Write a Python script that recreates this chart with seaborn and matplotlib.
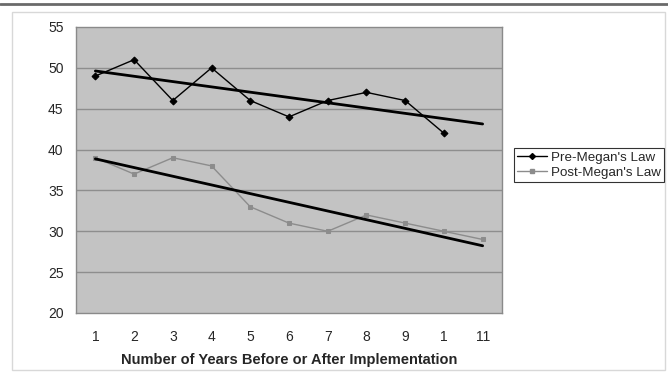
import numpy as np
import pandas as pd
import matplotlib
matplotlib.use("Agg")
import matplotlib.pyplot as plt
from matplotlib.lines import Line2D
from matplotlib.patches import Rectangle
import seaborn as sns

# ---- data ----
categories = ["1", "2", "3", "4", "5", "6", "7", "8", "9", "1", "11"]
pre_values = [49, 51, 46, 50, 46, 44, 46, 47, 46, 42]
post_values = [39, 37, 39, 38, 33, 31, 30, 32, 31, 30, 29]
y_ticks = [20, 25, 30, 35, 40, 45, 50, 55]
series_names = ["Pre-Megan's Law", "Post-Megan's Law"]
x_label = "Number of Years Before or After Implementation"

sns.set_style("white")
plt.rcParams["font.family"] = ["Liberation Sans", "DejaVu Sans"]

fig = plt.figure(figsize=(6.68, 3.73), dpi=100)
fig.patch.set_facecolor("white")

# outer frame
fig.add_artist(Rectangle((12 / 668, 1 - 370 / 373), (665 - 12) / 668, (370 - 12) / 373,
                         transform=fig.transFigure, fill=False, edgecolor="#d8d8d8", lw=1.0))
fig.add_artist(Line2D([0, 1], [1 - 4 / 373, 1 - 4 / 373], transform=fig.transFigure,
                      color="#6a6a6a", lw=2.0))

ax = fig.add_axes([76 / 668, 1 - 313 / 373, (502 - 76) / 668, (313 - 27) / 373])
ax.set_facecolor("#c3c3c3")

pre_df = pd.DataFrame({"x": np.arange(len(pre_values)), "y": pre_values})
post_df = pd.DataFrame({"x": np.arange(len(post_values)), "y": post_values})

# horizontal gridlines
for yv in y_ticks[1:-1]:
    ax.axhline(yv, color="#8e8e8e", lw=1.0, zorder=0.5)

sns.lineplot(data=pre_df, x="x", y="y", ax=ax, color="black", lw=1.0,
             marker="D", markersize=3.5, markeredgecolor="black", zorder=3)
sns.lineplot(data=post_df, x="x", y="y", ax=ax, color="#8c8c8c", lw=1.0,
             marker="s", markersize=3.5, markeredgecolor="#8c8c8c", zorder=3)

# linear trend lines (fit to data, extended to the last category)
xfull = np.arange(len(categories))
for vals in (pre_values, post_values):
    xs = np.arange(len(vals))
    m, b = np.polyfit(xs, vals, 1)
    ax.plot(xfull, m * xfull + b, color="black", lw=2.0, zorder=4)

ax.set_xlim(-0.5, len(categories) - 0.5)
ax.set_ylim(20, 55)
ax.set_yticks(y_ticks)
ax.set_yticklabels([str(v) for v in y_ticks], fontsize=10)
ax.set_xticks(xfull)
ax.set_xticklabels(categories, fontsize=10)
ax.set_xticks(np.arange(-0.5, len(categories) + 0.5, 1), minor=True)
ax.tick_params(axis="x", which="major", length=0, pad=12)
ax.tick_params(axis="x", which="minor", length=3, color="#808080")
ax.tick_params(axis="y", length=0, pad=9)
ax.set_xlabel(x_label, fontsize=10.5, fontweight="bold", labelpad=7)
ax.set_ylabel("")
for s in ax.spines.values():
    s.set_visible(True)
    s.set_color("#8a8a8a")
    s.set_linewidth(1.0)

handles = [
    Line2D([], [], color="black", lw=1.0, marker="D", markersize=3),
    Line2D([], [], color="#8c8c8c", lw=1.0, marker="s", markersize=3),
]
leg = fig.legend(handles, series_names, loc="upper left",
                 bbox_to_anchor=(514 / 668, 1 - 148 / 373), fontsize=9.6,
                 frameon=True, fancybox=False, handlelength=2.2, handletextpad=0.3,
                 borderpad=0.25, labelspacing=0.2, borderaxespad=0)
leg.get_frame().set_edgecolor("black")
leg.get_frame().set_linewidth(0.8)

fig.savefig("out.png", dpi=100)
